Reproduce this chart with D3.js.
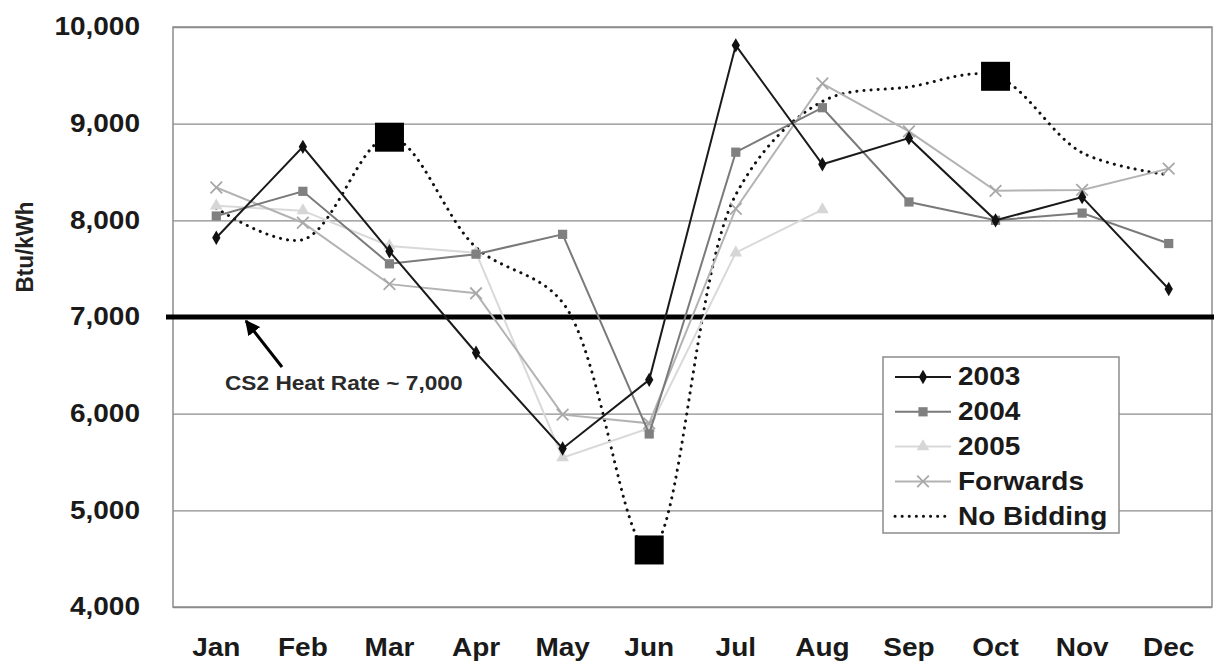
<!DOCTYPE html>
<html>
<head>
<meta charset="utf-8">
<script src="https://cdn.jsdelivr.net/npm/d3@7"></script>
<style>
  html, body { margin: 0; padding: 0; background: #fff; }
  svg { display: block; }
  text { font-family: "Liberation Sans", Arial, Helvetica, sans-serif; fill: #1a1a1a; }
</style>
</head>
<body>
<svg id="chart" width="1214" height="666"></svg>
<script>
// ---- data ----
const months = ["Jan","Feb","Mar","Apr","May","Jun","Jul","Aug","Sep","Oct","Nov","Dec"];
const yTicks = [4000, 5000, 6000, 7000, 8000, 9000, 10000];
const s2003 = [7820, 8760, 7680, 6630, 5640, 6350, 9810, 8580, 8850, 8000, 8240, 7290];
const s2004 = [8045, 8300, 7550, 7650, 7855, 5790, 8705, 9165, 8190, 8000, 8075, 7760];
const s2005 = [8150, 8100, 7735, 7665, 5545, 5850, 7665, 8110, null, null, null, null];
const sForwards = [8340, 7975, 7340, 7245, 5990, 5900, 8120, 9415, 8920, 8305, 8315, 8535];
const sNoBidding = [8125, 7800, 8860, 7720, 7150, 4590, 8265, 9230, 9380, 9490, 8700, 8470];
const noBiddingHighlights = ["Mar", "Jun", "Oct"];
const heatRate = 7000;
const heatRateLabel = "CS2 Heat Rate ~ 7,000";
const yTitle = "Btu/kWh";
const legendLabels = ["2003", "2004", "2005", "Forwards", "No Bidding"];

// ---- layout ----
const svg = d3.select("#chart");
const L = 173, R = 1212, T = 27, B = 607;
const x = d3.scaleBand().domain(months).range([L, R]).padding(0);
const cx = m => x(m) + x.bandwidth() / 2;
const y = d3.scaleLinear().domain([4000, 10000]).range([B, T]);
const SX = 1.12;

// gridlines
const yAxis = d3.axisLeft(y).tickValues(yTicks).tickSize(-(R - L)).tickFormat("");
svg.append("g").attr("transform", `translate(${L},0)`).call(yAxis)
  .call(g => g.select(".domain").remove())
  .call(g => g.selectAll("line").attr("stroke", "#8c8c8c").attr("stroke-width", 1.3));

// frame
svg.append("rect").attr("x", L).attr("y", T).attr("width", R - L).attr("height", B - T)
  .attr("fill", "none").attr("stroke", "#8c8c8c").attr("stroke-width", 1.5);

// y tick labels
svg.append("g").selectAll("text").data(yTicks).join("text")
  .attr("transform", d => `translate(140,${y(d)}) scale(${SX},1)`)
  .attr("text-anchor", "end").attr("dominant-baseline", "central")
  .style("font-size", "25px").style("font-weight", "bold")
  .text(d => d3.format(",")(d));

// x labels
svg.append("g").selectAll("text").data(months).join("text")
  .attr("transform", d => `translate(${cx(d)},656) scale(${SX},1)`)
  .attr("text-anchor", "middle")
  .style("font-size", "25px").style("font-weight", "bold")
  .text(d => d);

// y title
svg.append("text")
  .attr("transform", `translate(33,247) rotate(-90) scale(1,1.1)`)
  .attr("text-anchor", "middle")
  .style("font-size", "22.5px").style("font-weight", "bold").style("fill", "#222")
  .text(yTitle);

// heat rate line
svg.append("line").attr("x1", 166).attr("x2", 1214)
  .attr("y1", y(heatRate)).attr("y2", y(heatRate))
  .attr("stroke", "#000").attr("stroke-width", 5);

// series definitions
const series = [
  { name: "No Bidding", values: sNoBidding, color: "#111", width: 3, dash: "0.1,7", curve: d3.curveCatmullRom, symbol: null },
  { name: "2005", values: s2005, color: "#d9d9d9", width: 2, dash: null, curve: d3.curveLinear, symbol: d3.symbolTriangle, size: 70, fill: "#d6d6d6" },
  { name: "Forwards", values: sForwards, color: "#b3b3b3", width: 2, dash: null, curve: d3.curveLinear, symbol: d3.symbolTimes, size: 90, stroke: "#a8a8a8" },
  { name: "2004", values: s2004, color: "#7a7a7a", width: 2, dash: null, curve: d3.curveLinear, symbol: d3.symbolSquare, size: 85, fill: "#808080" },
  { name: "2003", values: s2003, color: "#1a1a1a", width: 2, dash: null, curve: d3.curveLinear, symbol: d3.symbolDiamond, size: 60, fill: "#111" }
];

const g = svg.append("g");
series.forEach(s => {
  const pts = months.map((m, i) => ({ m, v: s.values[i] })).filter(p => p.v != null);
  const line = d3.line().x(p => cx(p.m)).y(p => y(p.v)).curve(s.curve);
  g.append("path").datum(pts).attr("d", line)
    .attr("fill", "none").attr("stroke", s.color).attr("stroke-width", s.width)
    .attr("stroke-linecap", s.dash ? "round" : "butt")
    .attr("stroke-dasharray", s.dash);
  if (s.symbol) {
    g.selectAll(null).data(pts).join("path")
      .attr("transform", p => `translate(${cx(p.m)},${y(p.v)})`)
      .attr("d", d3.symbol().type(s.symbol).size(s.size))
      .attr("fill", s.stroke ? "none" : s.fill)
      .attr("stroke", s.stroke || "none")
      .attr("stroke-width", s.stroke ? 1.8 : 0);
  }
});

// big highlight squares on No Bidding
g.selectAll(null).data(noBiddingHighlights).join("path")
  .attr("transform", m => `translate(${cx(m)},${y(sNoBidding[months.indexOf(m)])})`)
  .attr("d", d3.symbol().type(d3.symbolSquare).size(29 * 29))
  .attr("fill", "#000");

// annotation arrow and text
svg.append("defs").append("marker")
  .attr("id", "arrow").attr("viewBox", "0 0 10 10").attr("refX", 9).attr("refY", 5)
  .attr("markerWidth", 5).attr("markerHeight", 5).attr("orient", "auto")
  .append("path").attr("d", "M0,0 L10,5 L0,10 Z").attr("fill", "#000");
svg.append("line").attr("x1", 282).attr("y1", 367).attr("x2", 246).attr("y2", y(heatRate) + 4)
  .attr("stroke", "#000").attr("stroke-width", 3).attr("marker-end", "url(#arrow)");
svg.append("text")
  .attr("transform", `translate(225,390) scale(1.08,1)`)
  .style("font-size", "21px").style("font-weight", "bold").style("fill", "#2a2a2a")
  .text(heatRateLabel);

// legend
const lg = svg.append("g");
lg.append("rect").attr("x", 883).attr("y", 357).attr("width", 236).attr("height", 176)
  .attr("fill", "#fff").attr("stroke", "#8c8c8c").attr("stroke-width", 1.5);
const legendSeries = legendLabels.map(n => series.find(s => s.name === n));
legendSeries.forEach((s, i) => {
  const ly = 377 + i * 34.8;
  lg.append("line").attr("x1", 895).attr("x2", 951).attr("y1", ly).attr("y2", ly)
    .attr("stroke", s.color).attr("stroke-width", s.width)
    .attr("stroke-dasharray", s.dash).attr("stroke-linecap", s.dash ? "round" : "butt");
  if (s.symbol) {
    lg.append("path").attr("transform", `translate(923,${ly})`)
      .attr("d", d3.symbol().type(s.symbol).size(s.size))
      .attr("fill", s.stroke ? "none" : s.fill)
      .attr("stroke", s.stroke || "none")
      .attr("stroke-width", s.stroke ? 1.8 : 0);
  }
  lg.append("text").attr("transform", `translate(958,${ly}) scale(${SX},1)`)
    .attr("dominant-baseline", "central")
    .style("font-size", "25px").style("font-weight", "bold")
    .text(s.name);
});
</script>
</body>
</html>
